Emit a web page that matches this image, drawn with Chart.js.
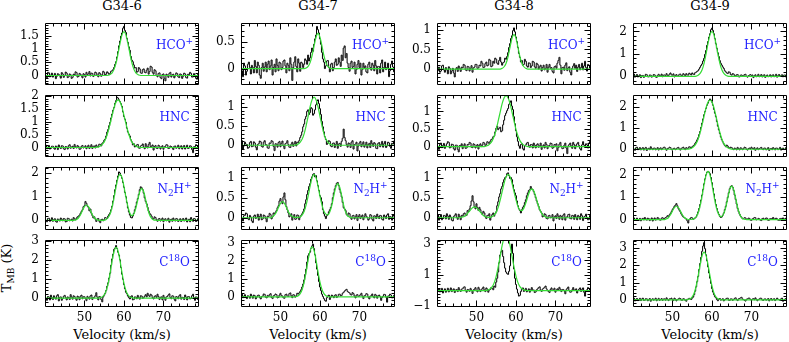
<!DOCTYPE html>
<html>
<head>
<meta charset="utf-8">
<script src="https://cdn.jsdelivr.net/npm/chart.js@4.4.1/dist/chart.umd.min.js"></script>
<style>
  body { margin: 0; background: #fff; }
  #wrap { position: relative; width: 789px; height: 342px; overflow: hidden; font-family: "DejaVu Serif", serif; color: #000; }
  #wrap canvas { position: absolute; }
  .title { position: absolute; top: -2px; font-size: 13px; line-height: 16px; transform: translateX(-50%); white-space: nowrap; }
  .xlabel { position: absolute; top: 327px; font-size: 13px; line-height: 16px; transform: translateX(-50%); white-space: nowrap; }
  #ylabel { position: absolute; left: 9px; top: 268px; font-size: 13px; line-height: 16px; transform: translate(-50%, -50%) rotate(-90deg); white-space: nowrap; }
  #ylabel sub { font-size: 9px; vertical-align: -3px; }
</style>
</head>
<body>
<div id="wrap">
  <div id="ylabel">T<sub>MB</sub> (K)</div>
</div>
<script>
// Spectra of four sources in four lines, with Gaussian fits (green)

const sources = ['G34-6', 'G34-7', 'G34-8', 'G34-9'];

// line labels: [text, 0 = normal, 1 = superscript, -1 = subscript]
const lineLabels = [
    [['HCO', 0], ['+', 1]],
    [['HNC', 0]],
    [['N', 0], ['2', -1], ['H', 0], ['+', 1]],
    [['C', 0], ['18', 1], ['O', 0]]
];

// channel velocities (km/s), 0.25 km/s channels
const velocity = [
    40, 40.25, 40.5, 40.75, 41, 41.25, 41.5, 41.75, 42, 42.25, 42.5, 42.75, 43, 43.25, 43.5, 43.75, 44, 44.25, 44.5, 44.75,
    45, 45.25, 45.5, 45.75, 46, 46.25, 46.5, 46.75, 47, 47.25, 47.5, 47.75, 48, 48.25, 48.5, 48.75, 49, 49.25, 49.5, 49.75,
    50, 50.25, 50.5, 50.75, 51, 51.25, 51.5, 51.75, 52, 52.25, 52.5, 52.75, 53, 53.25, 53.5, 53.75, 54, 54.25, 54.5, 54.75,
    55, 55.25, 55.5, 55.75, 56, 56.25, 56.5, 56.75, 57, 57.25, 57.5, 57.75, 58, 58.25, 58.5, 58.75, 59, 59.25, 59.5, 59.75,
    60, 60.25, 60.5, 60.75, 61, 61.25, 61.5, 61.75, 62, 62.25, 62.5, 62.75, 63, 63.25, 63.5, 63.75, 64, 64.25, 64.5, 64.75,
    65, 65.25, 65.5, 65.75, 66, 66.25, 66.5, 66.75, 67, 67.25, 67.5, 67.75, 68, 68.25, 68.5, 68.75, 69, 69.25, 69.5, 69.75,
    70, 70.25, 70.5, 70.75, 71, 71.25, 71.5, 71.75, 72, 72.25, 72.5, 72.75, 73, 73.25, 73.5, 73.75, 74, 74.25, 74.5, 74.75,
    75, 75.25, 75.5, 75.75, 76, 76.25, 76.5, 76.75, 77, 77.25, 77.5, 77.75, 78, 78.25, 78.5, 78.75, 79, 79.25, 79.5, 79.75
];

const xTicks = [50, 60, 70];
const xMajor = [40, 50, 60, 70, 80];
const xMinor = [42, 44, 46, 48, 52, 54, 56, 58, 62, 64, 66, 68, 72, 74, 76, 78];

// ---- G34-6 ----
const hco6 = [
    [0.05,-0.04,-0.08,0.12,0.10,-0.05,0.02,0.09,-0.06,0.01,0.08,-0.12,-0.03,0.07,0.04,-0.02,-0.10,0.11,0.06,-0.07],
    [0.00,0.13,0.09,-0.08,-0.05,0.06,0.03,-0.11,-0.07,0.05,0.02,0.14,0.11,-0.06,-0.04,0.08,0.05,-0.02,-0.09,0.07],
    [0.03,-0.06,0.12,0.04,0.06,0.15,-0.02,0.09,0.08,-0.04,0.01,0.13,0.10,0.02,-0.05,0.11,0.07,-0.03,0.03,0.16],
    [0.12,0.02,0.05,0.14,0.10,0.04,0.08,0.16,0.18,0.22,0.30,0.42,0.52,0.70,0.90,1.12,1.30,1.48,1.60,1.78],
    [1.85,1.70,1.62,1.40,1.25,1.08,0.95,0.72,0.58,0.52,0.40,0.28,0.30,0.12,0.15,0.30,0.25,0.10,0.08,0.22],
    [0.25,0.12,0.10,0.20,0.28,0.05,0.15,0.35,0.32,0.12,0.05,0.22,0.18,0.00,-0.05,0.08,0.10,-0.08,-0.12,0.04],
    [0.06,-0.10,-0.20,0.05,0.02,-0.07,0.08,0.12,-0.06,0.03,0.05,-0.09,-0.02,0.10,0.07,-0.05,-0.08,0.06,0.04,-0.11],
    [-0.03,0.09,0.06,-0.08,-0.10,0.05,0.03,0.12,0.08,-0.06,-0.05,0.07,0.02,-0.09,-0.14,0.04,0.06,-0.03,-0.02,0.08]
];
const hnc6 = [
    [0.04,0.09,-0.05,0.02,0.08,-0.06,-0.02,0.05,0.05,-0.03,-0.07,0.06,0.03,-0.08,0.10,0.02,-0.04,0.07,0.06,-0.05],
    [-0.08,0.04,0.02,-0.06,0.07,0.11,-0.03,0.02,0.05,-0.04,0.12,0.03,-0.02,0.08,0.04,-0.07,-0.06,0.05,0.08,-0.02],
    [0.01,0.07,-0.05,0.03,0.09,-0.04,0.03,0.11,-0.04,0.05,0.06,-0.02,0.10,0.04,0.02,0.13,0.12,0.06,0.16,0.20],
    [0.28,0.33,0.45,0.60,0.70,0.85,0.98,1.15,1.30,1.45,1.55,1.72,1.82,1.95,1.92,1.85,1.78,1.70,1.60,1.38],
    [1.20,1.10,0.98,0.75,0.60,0.52,0.45,0.30,0.22,0.10,0.15,0.02,0.05,0.10,0.12,-0.02,-0.03,0.06,0.08,0.14],
    [0.02,-0.05,0.15,0.05,-0.02,0.12,0.20,0.03,0.05,0.10,-0.10,0.04,0.08,-0.03,-0.04,0.09,0.06,-0.06,0.02,0.07],
    [-0.07,0.02,0.05,0.11,0.10,-0.04,-0.03,0.06,0.04,-0.02,-0.08,0.05,0.06,-0.03,0.01,0.09,-0.05,0.03,0.07,-0.06],
    [0.03,0.08,-0.06,0.02,0.09,-0.04,-0.02,0.07,0.05,-0.08,-0.20,0.03,0.04,0.11,0.08,-0.03,-0.05,0.06,0.03,-0.02]
];
const n2h6 = [
    [0.05,-0.02,-0.06,0.08,0.09,-0.04,0.02,0.11,-0.04,0.03,0.07,-0.05,-0.08,0.06,0.03,-0.03,0.10,0.04,-0.02,0.08],
    [0.06,-0.07,-0.05,0.09,0.08,-0.02,0.01,0.05,-0.03,0.12,0.06,0.02,0.10,0.15,0.18,0.22,0.30,0.38,0.45,0.58],
    [0.62,0.80,0.72,0.60,0.55,0.40,0.48,0.30,0.20,0.10,0.15,0.05,-0.05,0.06,0.08,-0.04,-0.10,0.03,0.05,-0.02],
    [0.03,0.12,0.10,0.08,0.18,0.25,0.32,0.45,0.60,0.82,1.05,1.30,1.50,1.70,1.88,2.05,2.00,1.90,1.78,1.60],
    [1.40,1.18,1.00,0.75,0.52,0.35,0.22,0.12,0.10,0.18,0.30,0.45,0.60,0.78,0.92,1.10,1.30,1.42,1.38,1.30],
    [1.15,0.95,0.80,0.70,0.55,0.40,0.30,0.25,0.18,0.08,0.05,0.15,0.12,0.02,-0.04,0.06,0.08,-0.03,0.03,0.10],
    [-0.06,0.04,0.07,-0.02,0.02,0.09,-0.08,0.03,0.05,-0.04,0.10,0.02,-0.03,0.08,0.06,-0.05,0.01,0.07,-0.05,0.03],
    [0.08,-0.03,0.03,0.10,-0.07,0.02,0.05,-0.06,0.12,0.04,-0.04,0.08,0.06,-0.05,-0.02,0.07,0.09,-0.03,0.01,0.06]
];
const c18o6 = [
    [0.10,-0.05,-0.12,0.08,0.05,-0.10,0.15,0.02,-0.08,0.12,0.02,-0.06,0.12,0.18,-0.15,0.04,0.06,-0.12,-0.03,0.09],
    [0.14,0.02,-0.10,0.06,0.03,-0.08,0.18,0.05,-0.06,0.12,0.08,-0.04,-0.12,0.10,0.05,-0.09,0.10,0.15,-0.04,0.07],
    [0.07,-0.03,-0.14,0.09,0.02,-0.06,0.11,0.16,-0.08,0.03,0.04,0.12,0.28,0.05,-0.10,0.08,0.06,-0.08,-0.20,0.05],
    [0.15,0.25,0.40,0.62,0.80,1.05,1.30,1.72,2.05,2.30,2.55,2.62,2.75,2.60,2.40,2.25,2.00,1.60,1.25,0.98],
    [0.70,0.48,0.30,0.22,0.10,0.02,-0.05,0.08,0.12,-0.10,-0.08,0.06,0.05,-0.04,0.14,0.02,-0.06,0.12,0.10,-0.02],
    [0.02,0.10,0.18,0.06,0.25,0.14,0.08,0.20,0.15,0.02,-0.05,0.09,0.12,0.03,0.20,0.08,-0.08,0.04,0.06,-0.10],
    [0.14,0.02,-0.12,0.06,0.08,0.16,0.22,0.03,-0.04,0.12,0.10,-0.06,-0.15,0.08,0.05,-0.04,0.12,0.18,-0.06,0.04],
    [0.03,-0.08,0.16,0.05,-0.10,0.08,0.07,-0.05,-0.02,0.12,0.20,0.02,-0.12,0.06,0.04,-0.08,0.10,0.14,-0.05,0.06]
];

// ---- G34-7 ----
const hco7 = [
    [0.08,-0.04,-0.15,0.10,0.05,-0.12,-0.05,0.08,0.12,0.02,-0.10,0.06,0.02,-0.08,0.15,0.04,-0.08,0.12,0.06,-0.12],
    [-0.18,0.02,0.10,-0.05,0.03,0.12,-0.06,0.08,0.14,-0.02,0.05,0.16,-0.12,0.02,0.08,-0.06,0.18,0.06,-0.04,0.12],
    [0.10,-0.02,0.02,0.14,0.16,0.05,-0.08,0.10,0.06,-0.04,0.20,0.08,-0.22,0.02,0.12,0.22,0.04,-0.06,0.18,0.10],
    [-0.05,0.12,0.10,0.02,0.08,0.18,0.15,0.08,0.25,0.14,0.20,0.30,0.38,0.32,0.45,0.55,0.62,0.78,0.72,0.66],
    [0.55,0.45,0.30,0.18,0.12,0.00,0.05,0.14,0.15,0.02,-0.06,0.08,0.10,-0.04,0.02,0.12,0.18,0.06,0.08,0.20],
    [0.12,0.04,0.25,0.15,0.38,0.42,0.20,0.28,0.10,0.02,-0.05,0.10,0.14,0.02,0.04,0.12,-0.10,-0.02,0.08,0.15],
    [0.02,0.10,-0.12,-0.02,0.10,0.02,0.05,-0.06,-0.08,0.08,0.12,0.02,-0.03,0.10,0.06,-0.04,0.15,0.05,-0.10,0.04],
    [0.04,-0.08,0.10,0.16,-0.06,0.02,0.12,-0.02,0.02,0.10,-0.15,-0.04,0.08,0.14,0.03,-0.06,-0.05,0.08,0.06,-0.04]
];
const hnc7 = [
    [0.05,0.12,-0.10,-0.02,0.08,0.03,0.02,-0.08,-0.06,0.07,0.10,-0.04,-0.03,0.09,0.06,-0.05,-0.12,0.02,0.04,0.11],
    [0.09,-0.03,-0.05,0.08,0.12,0.02,0.01,-0.07,-0.08,0.06,0.05,0.12,0.10,-0.03,-0.14,0.04,0.03,-0.05,0.07,0.10],
    [-0.04,0.05,0.11,-0.02,-0.09,0.04,0.06,0.12,0.02,-0.05,-0.06,0.03,0.08,-0.03,0.04,0.10,-0.02,0.08,0.07,0.12],
    [0.20,0.26,0.35,0.48,0.55,0.68,0.75,0.88,0.92,0.80,0.85,0.98,0.95,0.78,0.82,0.92,1.05,1.15,1.18,1.08],
    [0.95,0.80,0.62,0.48,0.35,0.22,0.15,0.02,0.05,0.12,0.10,-0.02,-0.04,0.05,0.06,-0.06,0.02,0.10,-0.08,0.03],
    [0.05,-0.03,0.10,0.18,0.42,0.20,0.12,0.02,-0.05,0.06,0.04,-0.06,0.08,0.12,-0.10,0.02,0.03,0.08,-0.15,-0.02],
    [0.06,0.10,-0.04,0.03,0.09,-0.05,0.01,0.08,-0.07,0.02,0.05,-0.06,0.12,0.04,-0.03,0.07,0.04,-0.08,-0.09,0.05],
    [0.07,-0.04,0.02,0.10,-0.05,0.04,0.10,-0.06,-0.02,0.08,0.06,-0.03,-0.08,0.05,0.03,0.11,0.05,-0.06,-0.04,0.07]
];
const n2h7 = [
    [0.04,-0.03,-0.08,0.05,0.06,0.12,0.10,-0.02,-0.05,0.06,0.02,-0.08,-0.12,0.04,0.07,-0.02,0.01,0.09,-0.06,0.03],
    [0.09,-0.05,-0.03,0.07,0.05,-0.02,-0.10,0.04,0.03,0.11,0.08,-0.03,0.02,0.12,0.10,0.14,0.18,0.25,0.30,0.42],
    [0.48,0.40,0.35,0.52,0.62,0.45,0.28,0.20,0.12,0.02,0.05,0.10,-0.06,0.02,0.08,-0.04,-0.03,0.07,0.06,-0.05],
    [0.02,0.06,0.10,0.15,0.22,0.35,0.45,0.58,0.68,0.78,0.85,0.96,1.02,1.08,1.10,1.02,1.05,0.92,0.80,0.68],
    [0.55,0.50,0.40,0.20,0.10,0.04,-0.02,0.05,0.08,0.15,0.20,0.26,0.35,0.50,0.62,0.72,0.80,0.86,0.88,0.80],
    [0.70,0.62,0.52,0.38,0.25,0.22,0.18,0.08,0.05,0.12,0.10,0.00,-0.04,0.05,0.06,-0.03,0.02,0.08,-0.07,0.03],
    [0.08,-0.02,0.03,0.07,-0.05,0.02,0.10,0.04,0.01,-0.06,-0.03,0.08,0.06,-0.04,-0.08,0.05,0.04,-0.02,0.09,0.03],
    [-0.02,0.06,0.05,-0.04,-0.06,0.07,0.03,-0.02,0.07,0.10,-0.04,0.03,0.02,-0.06,0.08,0.04,-0.05,0.06,0.03,-0.03]
];
const c18o7 = [
    [0.08,0.15,-0.05,0.04,0.12,-0.02,-0.10,0.06,0.03,-0.08,0.15,0.05,-0.08,0.10,0.06,-0.12,-0.02,0.08,0.10,-0.04],
    [-0.12,0.02,0.04,0.16,0.14,-0.02,-0.06,0.08,0.02,0.12,0.18,-0.04,-0.10,0.06,0.08,0.16,0.12,-0.06,-0.04,0.10],
    [0.20,0.06,0.05,-0.06,-0.08,0.12,0.15,0.04,0.02,0.18,0.22,0.06,-0.05,0.12,0.10,-0.02,0.05,0.20,0.15,0.22],
    [0.30,0.40,0.55,0.72,0.95,1.25,1.55,1.95,2.30,2.42,2.50,2.72,2.85,2.95,2.70,2.35,1.90,1.55,1.20,0.85],
    [0.55,0.35,0.15,0.02,-0.10,-0.20,-0.25,-0.05,0.05,0.10,-0.15,-0.02,0.10,0.04,-0.05,0.08,0.12,-0.04,0.02,0.14],
    [0.15,0.05,0.08,0.20,0.25,0.32,0.38,0.42,0.30,0.25,0.22,0.12,0.10,0.24,0.18,0.04,-0.06,0.10,0.12,0.02],
    [0.05,0.12,0.20,0.04,-0.10,0.06,0.08,0.18,0.15,-0.02,-0.12,0.04,0.06,0.16,0.02,-0.06,0.14,0.08,-0.08,0.06],
    [0.10,0.02,-0.20,-0.04,0.04,0.14,0.12,-0.02,-0.30,0.04,0.06,0.15,0.10,-0.06,-0.05,0.08,0.08,0.16,0.02,-0.06]
];

// ---- G34-8 ----
const hco8 = [
    [-0.15,-0.04,0.05,-0.08,-0.05,0.08,0.10,-0.02,-0.08,0.04,-0.02,-0.12,0.06,0.02,-0.12,-0.05,0.02,-0.10,-0.20,0.00],
    [0.04,-0.06,0.08,0.02,-0.06,0.05,0.03,0.12,0.10,-0.02,-0.04,0.07,0.06,-0.05,0.02,0.09,-0.08,0.03,0.05,0.12],
    [0.12,0.02,0.03,0.10,0.08,0.20,0.15,0.04,0.05,0.14,0.18,0.08,0.10,0.25,0.22,0.06,0.08,0.20,0.15,0.28],
    [0.25,0.15,0.12,0.22,0.30,0.18,0.10,0.16,0.18,0.28,0.25,0.32,0.42,0.55,0.65,0.78,0.85,0.98,1.05,0.95],
    [0.82,0.70,0.55,0.40,0.30,0.18,0.22,0.10,0.12,0.25,0.20,0.08,0.05,0.16,0.15,0.04,0.08,0.20,0.18,0.06],
    [0.02,0.15,0.12,0.00,0.06,0.10,-0.05,0.04,0.10,-0.02,0.02,0.12,-0.08,0.05,0.12,0.02,0.04,-0.06,-0.10,0.06],
    [0.08,0.02,0.15,0.22,0.30,0.10,-0.12,0.04,0.05,-0.03,0.10,0.16,-0.04,0.03,0.06,-0.08,-0.15,0.02,0.08,0.14],
    [0.02,0.10,-0.06,0.05,0.12,-0.02,0.04,0.15,-0.02,0.08,0.20,0.04,-0.05,0.12,0.10,0.02,0.25,0.12,0.05,-0.04]
];
const hnc8 = [
    [0.05,-0.02,-0.08,0.06,0.10,-0.03,0.03,0.09,-0.05,0.02,0.08,0.14,0.12,-0.04,-0.02,0.07,0.06,-0.06,-0.10,0.04],
    [0.04,-0.08,-0.15,0.03,0.02,0.08,-0.06,0.02,0.08,-0.05,-0.04,0.06,0.05,0.12,0.10,-0.02,-0.03,0.08,0.06,-0.04],
    [0.02,0.06,-0.07,0.04,0.08,0.00,0.04,0.12,0.10,0.03,0.06,0.14,0.12,0.08,0.15,0.20,0.22,0.28,0.30,0.42],
    [0.52,0.58,0.48,0.52,0.55,0.42,0.45,0.62,0.75,0.88,0.95,1.02,1.08,1.20,1.25,1.30,1.15,1.05,0.85,0.65],
    [0.45,0.28,0.15,0.02,-0.05,0.06,0.08,-0.06,-0.10,0.02,0.05,0.10,0.12,0.03,-0.02,0.06,0.06,-0.04,0.10,0.04],
    [-0.04,0.05,0.08,-0.02,0.02,0.10,-0.08,0.01,0.05,-0.04,0.12,0.06,-0.06,0.02,0.03,0.10,0.09,-0.05,-0.03,0.06],
    [0.04,0.08,-0.12,-0.03,0.07,0.12,0.01,-0.06,-0.05,0.04,0.10,-0.04,-0.20,0.02,0.06,0.10,0.02,-0.05,0.12,0.06],
    [-0.06,0.03,0.08,0.12,0.03,-0.06,-0.10,0.05,0.14,0.04,-0.02,0.08,0.05,-0.04,0.10,0.15,-0.08,-0.02,0.06,0.10]
];
const n2h8 = [
    [0.03,0.08,-0.06,0.02,0.08,-0.05,-0.02,0.06,0.05,-0.03,0.10,0.04,-0.04,0.07,0.02,-0.06,-0.08,0.03,0.06,0.10],
    [0.01,-0.04,0.09,0.03,-0.05,0.06,0.04,0.10,0.12,0.05,0.06,0.18,0.15,0.22,0.30,0.42,0.55,0.40,0.28,0.22],
    [0.35,0.25,0.18,0.26,0.20,0.12,0.08,0.16,0.12,0.02,-0.02,0.06,0.05,0.10,-0.06,0.02,0.08,0.12,0.04,0.10],
    [0.15,0.30,0.40,0.52,0.60,0.72,0.78,0.88,0.95,1.00,1.02,1.10,1.12,1.05,0.98,1.00,0.95,0.82,0.70,0.62],
    [0.55,0.42,0.30,0.22,0.18,0.12,0.20,0.26,0.30,0.38,0.45,0.55,0.62,0.68,0.70,0.78,0.72,0.70,0.65,0.58],
    [0.50,0.42,0.35,0.28,0.20,0.16,0.12,0.02,0.04,0.10,0.08,-0.02,-0.03,0.05,0.06,0.00,0.01,0.08,-0.08,0.02],
    [0.05,-0.02,0.10,0.04,-0.04,0.06,0.03,-0.05,0.07,0.10,-0.06,0.02,0.02,0.08,0.09,-0.02,-0.03,0.06,0.05,-0.04],
    [0.08,0.02,-0.05,0.06,0.03,-0.04,0.10,0.05,-0.07,0.02,0.04,0.09,0.01,-0.05,-0.04,0.06,0.06,-0.02,0.02,0.08]
];
const c18o8 = [
    [-0.20,-0.05,0.10,-0.08,0.05,0.15,-0.15,0.02,0.12,-0.10,0.02,0.16,-0.08,0.05,0.18,-0.06,0.05,0.12,-0.12,0.04],
    [0.08,-0.06,0.20,0.05,-0.05,0.10,0.12,0.22,0.25,0.02,-0.10,0.08,0.06,-0.04,0.15,0.04,-0.18,0.05,0.10,0.20],
    [0.02,-0.08,0.22,0.10,-0.06,0.05,0.14,0.24,0.05,-0.06,0.18,0.10,-0.10,0.04,0.08,0.20,0.15,0.06,0.30,0.22],
    [0.55,0.80,1.20,1.80,2.30,2.50,2.60,2.20,1.80,1.45,1.20,1.10,1.05,1.25,1.60,2.40,3.00,2.40,1.40,0.80],
    [0.40,0.10,-0.15,-0.35,-0.30,-0.05,0.10,0.18,-0.05,0.05,0.15,-0.08,0.02,0.12,-0.10,0.06,0.20,0.02,0.05,-0.12],
    [-0.08,0.06,0.12,0.20,0.25,0.05,-0.05,0.10,0.15,0.22,0.30,0.12,0.02,-0.06,-0.12,0.08,0.18,0.02,0.05,0.16],
    [-0.10,0.04,0.12,0.05,0.22,0.10,-0.06,0.08,0.08,-0.02,-0.20,0.06,0.15,0.24,0.02,-0.10,-0.08,0.06,0.20,0.05],
    [0.05,0.12,-0.15,0.02,0.10,0.18,-0.05,0.08,0.18,-0.10,-0.35,-0.05,0.06,0.20,0.15,-0.04,-0.10,0.06,0.08,0.15]
];

// ---- G34-9 ----
const hco9 = [
    [0.05,0.10,-0.04,0.02,0.08,-0.03,0.02,0.07,-0.06,0.03,0.04,-0.05,0.01,0.09,0.07,-0.02,-0.03,0.06,0.05,-0.04],
    [0.00,0.08,0.06,-0.03,-0.05,0.04,0.09,0.02,0.02,0.10,-0.02,0.05,0.06,0.03,0.12,0.04,0.03,0.10,0.15,0.06],
    [0.05,0.11,-0.03,0.04,0.08,0.00,0.02,0.09,0.10,0.03,0.04,0.12,0.07,0.02,0.12,0.06,0.05,0.14,0.10,0.06],
    [0.15,0.10,0.08,0.16,0.18,0.22,0.25,0.32,0.40,0.48,0.55,0.68,0.80,0.98,1.15,1.38,1.55,1.75,1.90,2.08],
    [2.15,2.05,1.90,1.68,1.45,1.25,1.05,0.88,0.70,0.58,0.50,0.42,0.35,0.25,0.20,0.15,0.12,0.20,0.18,0.08],
    [0.05,0.12,0.10,0.03,0.02,0.07,0.08,-0.02,-0.03,0.05,0.06,0.02,0.01,0.08,0.09,-0.01,-0.04,0.03,0.05,0.08],
    [0.03,0.06,-0.06,0.02,0.07,-0.02,0.02,0.09,-0.02,0.03,0.08,-0.03,0.04,0.07,-0.05,0.02,0.06,-0.02,0.01,0.07],
    [-0.03,0.04,0.07,-0.02,0.02,0.09,-0.04,0.03,0.08,-0.01,0.03,0.07,-0.02,0.05,0.06,-0.03,0.10,0.04,0.02,0.08]
];
const hnc9 = [
    [0.06,0.01,-0.05,0.07,0.10,-0.02,0.02,0.08,-0.03,0.03,0.08,-0.04,0.04,0.09,-0.06,0.02,0.05,-0.02,0.12,0.04],
    [-0.02,0.05,0.06,-0.03,0.01,0.08,-0.04,0.03,0.07,-0.02,0.03,0.09,0.10,0.02,-0.05,0.04,0.04,0.10,0.08,-0.02],
    [-0.03,0.04,0.05,-0.02,0.02,0.07,0.09,0.01,-0.04,0.05,0.06,0.10,0.03,-0.02,0.08,0.04,0.05,0.12,0.10,0.06],
    [0.12,0.16,0.20,0.28,0.35,0.45,0.55,0.70,0.85,1.05,1.25,1.45,1.65,1.80,1.95,2.10,2.20,2.32,2.40,2.35],
    [2.25,2.10,1.90,1.72,1.55,1.32,1.10,0.92,0.75,0.58,0.45,0.35,0.25,0.18,0.12,0.20,0.15,0.08,0.05,0.10],
    [0.08,0.02,-0.02,0.06,0.04,-0.03,0.09,0.03,-0.03,0.07,0.05,-0.02,0.02,0.10,0.08,-0.01,-0.04,0.04,0.06,0.01],
    [0.10,0.04,0.01,0.08,-0.05,0.02,0.07,-0.02,0.03,0.06,0.09,0.01,-0.02,0.06,0.05,-0.03,0.01,0.08,-0.06,0.02],
    [0.04,-0.02,0.08,0.03,-0.03,0.06,0.05,-0.02,0.02,0.09,-0.04,0.03,0.06,-0.01,0.01,0.08,0.07,0.02,-0.02,0.05]
];
const n2h9 = [
    [0.04,0.08,-0.03,0.02,0.07,-0.02,0.01,0.06,-0.05,0.03,0.06,-0.01,0.10,0.04,-0.02,0.07,0.05,-0.04,0.02,0.08],
    [-0.06,0.03,0.08,-0.02,0.03,0.10,0.06,-0.01,-0.02,0.07,0.09,0.04,0.05,0.10,0.12,0.18,0.15,0.22,0.28,0.36],
    [0.45,0.52,0.60,0.65,0.72,0.62,0.50,0.42,0.35,0.25,0.18,0.12,0.10,0.06,0.02,-0.05,-0.15,0.00,0.05,0.10],
    [0.08,0.02,0.04,0.08,0.12,0.22,0.35,0.50,0.68,0.88,1.10,1.35,1.60,1.82,2.00,2.12,2.15,2.12,2.05,1.88],
    [1.65,1.40,1.15,0.90,0.68,0.50,0.35,0.24,0.15,0.10,0.12,0.20,0.30,0.45,0.60,0.80,1.00,1.20,1.38,1.48],
    [1.52,1.45,1.30,1.10,0.90,0.70,0.50,0.36,0.25,0.16,0.10,0.04,0.05,0.09,0.08,0.01,0.02,0.07,0.06,-0.02],
    [-0.03,0.04,0.05,0.10,0.09,-0.01,0.01,0.06,0.04,-0.02,-0.04,0.05,0.07,0.02,0.03,0.08,0.06,-0.03,-0.02,0.05],
    [0.05,0.02,0.10,0.04,0.01,0.07,0.04,-0.02,-0.03,0.05,0.06,0.01,0.08,0.04,0.02,0.07,0.05,-0.02,0.00,0.06]
];
const c18o9 = [
    [0.05,0.10,-0.06,0.03,0.08,-0.04,0.02,0.09,-0.04,0.05,0.10,-0.03,-0.02,0.07,0.06,-0.05,0.01,0.08,-0.08,0.02],
    [0.07,-0.02,0.03,0.10,-0.05,0.02,0.09,-0.03,0.02,0.08,-0.03,0.05,0.06,-0.02,0.12,0.04,-0.04,0.06,0.05,0.10],
    [0.02,-0.04,0.10,0.05,-0.06,0.03,0.04,0.10,0.08,-0.02,-0.02,0.07,0.05,-0.03,-0.08,0.04,0.03,0.09,0.06,0.02],
    [0.10,0.16,0.30,0.50,0.75,1.05,1.35,1.75,2.10,2.45,2.80,3.10,3.30,2.95,2.60,2.25,1.90,1.55,1.25,0.95],
    [0.65,0.45,0.30,0.18,0.12,0.02,-0.05,0.04,0.08,-0.02,0.02,0.07,-0.06,0.01,0.05,0.09,0.10,-0.02,-0.03,0.06],
    [0.06,-0.03,0.02,0.09,0.12,0.02,-0.04,0.06,0.08,0.12,0.15,0.04,0.03,-0.03,-0.07,0.04,0.05,0.10,0.10,0.02],
    [-0.02,0.05,0.07,0.01,0.12,0.04,-0.05,0.03,0.04,0.10,0.09,-0.01,-0.03,0.05,0.06,-0.02,0.02,0.08,-0.06,0.03],
    [0.08,-0.02,0.03,0.07,-0.04,0.02,0.10,0.04,0.01,-0.03,0.06,0.10,-0.08,-0.02,0.04,0.08,0.07,-0.03,0.02,0.06]
];

// ---- Gaussian fits: [velocity, T] ----
const fitHco6 = [[40,0],[55.5,0],[56,0.01],[56.5,0.04],[57,0.10],[57.5,0.24],[58,0.48],[58.5,0.83],[59,1.21],[59.5,1.53],[60,1.65],[60.5,1.53],[61,1.21],[61.5,0.83],[62,0.48],[62.5,0.24],[63,0.10],[63.5,0.04],[64,0.01],[64.5,0],[80,0]];
const fitHnc6 = [[40,0],[52.5,0],[53,0.01],[53.5,0.02],[54,0.06],[54.5,0.12],[55,0.22],[55.5,0.39],[56,0.63],[56.5,0.93],[57,1.25],[57.5,1.56],[58,1.77],[58.5,1.85],[59,1.77],[59.5,1.56],[60,1.25],[60.5,0.93],[61,0.63],[61.5,0.39],[62,0.22],[62.5,0.12],[63,0.06],[63.5,0.02],[64,0.01],[64.5,0],[80,0]];
const fitN2h6 = [[40,0],[47,0],[47.5,0.01],[48,0.04],[48.5,0.11],[49,0.24],[49.5,0.42],[50,0.58],[50.5,0.65],[51,0.58],[51.5,0.42],[52,0.24],[52.5,0.11],[53,0.04],[53.5,0.01],[54,0],[54.5,0],[55,0.01],[55.5,0.04],[56,0.12],[56.5,0.28],[57,0.57],[57.5,0.98],[58,1.43],[58.5,1.81],[59,1.95],[59.5,1.81],[60,1.43],[60.5,0.98],[61,0.58],[61.5,0.30],[62,0.20],[62.5,0.27],[63,0.51],[63.5,0.87],[64,1.21],[64.5,1.35],[65,1.21],[65.5,0.87],[66,0.50],[66.5,0.23],[67,0.08],[67.5,0.02],[68,0.01],[68.5,0],[80,0]];
const fitC18o6 = [[40,0],[53.5,0],[54,0.02],[54.5,0.06],[55,0.17],[55.5,0.39],[56,0.77],[56.5,1.33],[57,1.95],[57.5,2.45],[58,2.65],[58.5,2.45],[59,1.95],[59.5,1.33],[60,0.77],[60.5,0.39],[61,0.17],[61.5,0.06],[62,0.02],[62.5,0],[80,0]];

const fitHco7 = [[40,0],[56,0],[56.5,0.01],[57,0.04],[57.5,0.11],[58,0.24],[58.5,0.42],[59,0.58],[59.5,0.65],[60,0.58],[60.5,0.42],[61,0.24],[61.5,0.11],[62,0.04],[62.5,0.01],[63,0],[80,0]];
const fitHnc7 = [[40,0],[53.5,0],[54,0.01],[54.5,0.03],[55,0.08],[55.5,0.16],[56,0.30],[56.5,0.51],[57,0.75],[57.5,1.00],[58,1.18],[58.5,1.25],[59,1.18],[59.5,1.00],[60,0.75],[60.5,0.51],[61,0.30],[61.5,0.16],[62,0.08],[62.5,0.03],[63,0.01],[63.5,0],[80,0]];
const fitN2h7 = [[40,0],[47.5,0],[48,0.03],[48.5,0.07],[49,0.15],[49.5,0.26],[50,0.36],[50.5,0.40],[51,0.36],[51.5,0.26],[52,0.15],[52.5,0.07],[53,0.03],[53.5,0.01],[54,0.01],[54.5,0.01],[55,0.02],[55.5,0.07],[56,0.16],[56.5,0.32],[57,0.54],[57.5,0.79],[58,1.00],[58.5,1.08],[59,1.00],[59.5,0.79],[60,0.54],[60.5,0.32],[61,0.16],[61.5,0.09],[62,0.07],[62.5,0.15],[63,0.31],[63.5,0.55],[64,0.76],[64.5,0.85],[65,0.76],[65.5,0.55],[66,0.31],[66.5,0.14],[67,0.05],[67.5,0.02],[68,0],[80,0]];
const fitC18o7 = [[40,0],[53.5,0],[54,0.02],[54.5,0.06],[55,0.18],[55.5,0.41],[56,0.82],[56.5,1.40],[57,2.06],[57.5,2.59],[58,2.80],[58.5,2.59],[59,2.06],[59.5,1.40],[60,0.82],[60.5,0.41],[61,0.18],[61.5,0.06],[62,0.02],[62.5,0],[80,0]];

const fitHco8 = [[40,0],[56,0],[56.5,0.02],[57,0.06],[57.5,0.15],[58,0.32],[58.5,0.56],[59,0.79],[59.5,0.88],[60,0.79],[60.5,0.56],[61,0.32],[61.5,0.15],[62,0.06],[62.5,0.02],[63,0],[80,0]];
const fitHnc8 = [[40,0],[52,0],[52.5,0.02],[53,0.04],[53.5,0.09],[54,0.17],[54.5,0.30],[55,0.49],[55.5,0.73],[56,0.98],[56.5,1.22],[57,1.39],[57.5,1.45],[58,1.39],[58.5,1.22],[59,0.98],[59.5,0.73],[60,0.49],[60.5,0.30],[61,0.17],[61.5,0.09],[62,0.04],[62.5,0.02],[63,0],[80,0]];
const fitN2h8 = [[40,0],[45.5,0],[46,0.01],[46.5,0.02],[47,0.04],[47.5,0.08],[48,0.14],[48.5,0.20],[49,0.25],[49.5,0.27],[50,0.25],[50.5,0.20],[51,0.14],[51.5,0.08],[52,0.04],[52.5,0.02],[53,0.01],[53.5,0.01],[54,0.03],[54.5,0.07],[55,0.14],[55.5,0.26],[56,0.44],[56.5,0.65],[57,0.86],[57.5,1.02],[58,1.08],[58.5,1.02],[59,0.86],[59.5,0.65],[60,0.45],[60.5,0.28],[61,0.19],[61.5,0.18],[62,0.24],[62.5,0.37],[63,0.53],[63.5,0.67],[64,0.72],[64.5,0.67],[65,0.53],[65.5,0.36],[66,0.21],[66.5,0.11],[67,0.05],[67.5,0.02],[68,0],[80,0]];
const fitC18o8 = [[40,0],[52,0],[52.5,0.02],[53,0.05],[53.5,0.12],[54,0.26],[54.5,0.52],[55,0.94],[55.5,1.53],[56,2.22],[56.5,2.91],[57,3.41],[57.5,3.60],[58,3.41],[58.5,2.91],[59,2.22],[59.5,1.53],[60,0.94],[60.5,0.52],[61,0.26],[61.5,0.12],[62,0.05],[62.5,0.02],[63,0],[80,0]];

const fitHco9 = [[40,0],[55.5,0],[56,0.01],[56.5,0.05],[57,0.13],[57.5,0.29],[58,0.58],[58.5,1.00],[59,1.47],[59.5,1.85],[60,2.00],[60.5,1.85],[61,1.47],[61.5,1.00],[62,0.58],[62.5,0.29],[63,0.13],[63.5,0.05],[64,0.01],[64.5,0],[80,0]];
const fitHnc9 = [[40,0],[53.5,0],[54,0.01],[54.5,0.03],[55,0.07],[55.5,0.15],[56,0.28],[56.5,0.49],[57,0.80],[57.5,1.18],[58,1.59],[58.5,1.98],[59,2.25],[59.5,2.35],[60,2.25],[60.5,1.98],[61,1.59],[61.5,1.18],[62,0.80],[62.5,0.49],[63,0.28],[63.5,0.15],[64,0.07],[64.5,0.03],[65,0.01],[65.5,0],[80,0]];
const fitN2h9 = [[40,0],[48,0],[48.5,0.04],[49,0.10],[49.5,0.22],[50,0.39],[50.5,0.54],[51,0.60],[51.5,0.54],[52,0.39],[52.5,0.22],[53,0.10],[53.5,0.04],[54,0.01],[54.5,0.01],[55,0.02],[55.5,0.05],[56,0.13],[56.5,0.31],[57,0.63],[57.5,1.08],[58,1.58],[58.5,1.99],[59,2.15],[59.5,1.99],[60,1.58],[60.5,1.08],[61,0.63],[61.5,0.32],[62,0.16],[62.5,0.14],[63,0.28],[63.5,0.55],[64,0.96],[64.5,1.34],[65,1.50],[65.5,1.34],[66,0.96],[66.5,0.55],[67,0.26],[67.5,0.09],[68,0.03],[68.5,0.01],[69,0],[80,0]];
const fitC18o9 = [[40,0],[53.5,0],[54,0.02],[54.5,0.06],[55,0.17],[55.5,0.40],[56,0.80],[56.5,1.38],[57,2.02],[57.5,2.55],[58,2.75],[58.5,2.55],[59,2.02],[59.5,1.38],[60,0.80],[60.5,0.40],[61,0.17],[61.5,0.06],[62,0.02],[62.5,0],[80,0]];

// y axis ranges and labelled ticks, [source][line]
const yMin = [[-0.35, -0.36, -0.40, -0.47], [-0.30, -0.30, -0.30, -0.57], [-0.40, -0.29, -0.30, -1.05], [-0.38, -0.36, -0.45, -0.41]];
const yMax = [[1.97, 2.03, 2.25, 3.03], [0.84, 1.30, 1.26, 3.17], [1.17, 1.46, 1.26, 3.25], [2.37, 2.58, 2.34, 3.44]];
const yTicks = [
    [[0, 0.5, 1, 1.5], [0, 0.5, 1, 1.5, 2], [0, 1, 2], [0, 1, 2, 3]],
    [[0, 0.5], [0, 0.5, 1], [0, 0.5, 1], [0, 1, 2, 3]],
    [[0, 0.5, 1], [0, 0.5, 1], [0, 0.5, 1], [-1, 0, 1, 2, 3]],
    [[0, 1, 2], [0, 1, 2], [0, 1, 2], [0, 1, 2, 3]]
];

const spectra = [
    [hco6, hnc6, n2h6, c18o6],
    [hco7, hnc7, n2h7, c18o7],
    [hco8, hnc8, n2h8, c18o8],
    [hco9, hnc9, n2h9, c18o9]
];
const fits = [
    [fitHco6, fitHnc6, fitN2h6, fitC18o6],
    [fitHco7, fitHnc7, fitN2h7, fitC18o7],
    [fitHco8, fitHnc8, fitN2h8, fitC18o8],
    [fitHco9, fitHnc9, fitN2h9, fitC18o9]
];

// layout (page pixels)
const colLeft = [45, 241, 437, 633];
const plotW = 154;
const rowTop = [18, 90, 162, 235];
const rowH = [72, 72, 73, 72];
const AXW = 38, PAD = 8, XAXH = 24;

Chart.defaults.font.family = '"DejaVu Serif", serif';
Chart.defaults.font.size = 12;
Chart.defaults.color = '#000';

function fmt(v) {
    return v < 0 ? '\u2212' + (-v) : String(v);
}

// frame with inward ticks on all four sides, plus the blue line label
function makeFrame(major, parts) {
    return {
        id: 'frameTicks',
        afterDraw(chart) {
            const ctx = chart.ctx;
            const a = chart.chartArea;
            const x = chart.scales.x, y = chart.scales.y;
            const L = Math.round(a.left) + 0.5, R = Math.round(a.right) - 0.5;
            const T = Math.round(a.top) + 0.5, B = Math.round(a.bottom) - 0.5;
            ctx.save();
            ctx.strokeStyle = '#000';
            ctx.lineWidth = 1;
            ctx.beginPath();
            ctx.moveTo(L, T); ctx.lineTo(R, T); ctx.lineTo(R, B); ctx.lineTo(L, B); ctx.closePath();
            xMajor.concat(xMinor).forEach(v => {
                const px = Math.round(x.getPixelForValue(v)) + 0.5;
                if (px <= L || px >= R) return;
                const len = xMajor.includes(v) ? 6 : 3;
                ctx.moveTo(px, T); ctx.lineTo(px, T + len);
                ctx.moveTo(px, B); ctx.lineTo(px, B - len);
            });
            const minor = (major[1] - major[0]) / 5;
            const k0 = Math.ceil(y.min / minor - 1e-6), k1 = Math.floor(y.max / minor + 1e-6);
            for (let k = k0; k <= k1; k++) {
                const v = k * minor;
                const py = Math.round(y.getPixelForValue(v)) + 0.5;
                if (py <= T || py >= B) continue;
                const len = major.some(m => Math.abs(m - v) < 1e-6) ? 6 : 3;
                ctx.moveTo(L, py); ctx.lineTo(L + len, py);
                ctx.moveTo(R, py); ctx.lineTo(R - len, py);
            }
            ctx.stroke();

            const big = '12px "DejaVu Serif"', small = '9px "DejaVu Serif"';
            let w = 0;
            parts.forEach(([t, s]) => { ctx.font = s ? small : big; w += ctx.measureText(t).width; });
            let tx = a.left + 129.5 - w / 2;
            const ty = a.top + 26;
            ctx.fillStyle = '#2323ff';
            ctx.textBaseline = 'alphabetic';
            ctx.textAlign = 'left';
            parts.forEach(([t, s]) => {
                ctx.font = s ? small : big;
                ctx.fillText(t, tx, ty + (s > 0 ? -5 : s < 0 ? 3 : 0));
                tx += ctx.measureText(t).width;
            });
            ctx.restore();
        }
    };
}

const wrap = document.getElementById('wrap');

sources.forEach((src, c) => {
    const title = document.createElement('div');
    title.className = 'title';
    title.textContent = src;
    title.style.left = (colLeft[c] + plotW / 2) + 'px';
    wrap.appendChild(title);

    const xl = document.createElement('div');
    xl.className = 'xlabel';
    xl.textContent = 'Velocity (km/s)';
    xl.style.left = (colLeft[c] + plotW / 2) + 'px';
    wrap.appendChild(xl);

    lineLabels.forEach((lbl, r) => {
        const bottom = r === 3;
        const w = AXW + plotW + 4;
        const h = PAD + rowH[r] + (bottom ? XAXH : PAD);
        const canvas = document.createElement('canvas');
        canvas.width = w;
        canvas.height = h;
        canvas.style.width = w + 'px';
        canvas.style.height = h + 'px';
        canvas.style.left = (colLeft[c] - AXW) + 'px';
        canvas.style.top = (rowTop[r] - PAD) + 'px';
        wrap.appendChild(canvas);

        const spec = spectra[c][r].flat();
        const ticks = yTicks[c][r];

        new Chart(canvas, {
            type: 'line',
            data: {
                datasets: [{
                    label: 'fit',
                    data: fits[c][r].map(p => ({ x: p[0], y: p[1] })),
                    borderColor: '#35dc35',
                    borderWidth: 1.2,
                    pointRadius: 0,
                    cubicInterpolationMode: 'monotone',
                    clip: 0,
                    order: 0
                }, {
                    label: 'spectrum',
                    data: velocity.map((v, i) => ({ x: v, y: spec[i] })),
                    borderColor: '#000',
                    borderWidth: 1,
                    pointRadius: 0,
                    stepped: 'middle',
                    clip: 0,
                    order: 1
                }]
            },
            options: {
                responsive: false,
                maintainAspectRatio: false,
                animation: false,
                events: [],
                layout: { padding: { top: PAD, right: 4, left: 0, bottom: bottom ? 0 : PAD } },
                plugins: {
                    legend: { display: false },
                    tooltip: { enabled: false }
                },
                scales: {
                    x: {
                        type: 'linear',
                        min: 40,
                        max: 79,
                        display: bottom,
                        grid: { display: false, drawTicks: false },
                        border: { display: false },
                        ticks: { padding: 4, maxRotation: 0, callback: v => fmt(v) },
                        afterBuildTicks: s => { s.ticks = xTicks.map(v => ({ value: v })); },
                        afterFit: s => { s.height = bottom ? XAXH : 0; }
                    },
                    y: {
                        type: 'linear',
                        min: yMin[c][r],
                        max: yMax[c][r],
                        grid: { display: false, drawTicks: false },
                        border: { display: false },
                        ticks: { padding: 6, callback: v => fmt(v) },
                        afterBuildTicks: s => { s.ticks = ticks.map(v => ({ value: v })); },
                        afterFit: s => { s.width = AXW; }
                    }
                }
            },
            plugins: [makeFrame(ticks, lbl)]
        });
    });
});
</script>
</body>
</html>
